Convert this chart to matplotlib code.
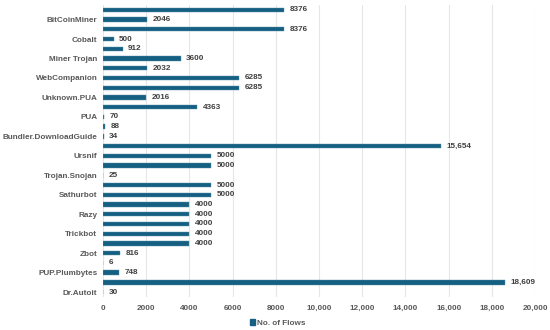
import matplotlib
matplotlib.use("Agg")
import matplotlib.pyplot as plt
from matplotlib.patches import Patch
from matplotlib.ticker import FuncFormatter

categories = ["", "BitCoinMiner", "", "Cobalt", "", "Miner Trojan", "", "WebCompanion",
              "", "Unknown.PUA", "", "PUA", "", "Bundler.DownloadGuide", "", "Ursnif",
              "", "Trojan.Snojan", "", "Sathurbot", "", "Razy", "", "Trickbot", "",
              "Zbot", "", "PUP.Plumbytes", "", "Dr.Autoit"]
flows = [8376, 2046, 8376, 500, 912, 3600, 2032, 6285, 6285, 2016, 4363, 70, 88, 34,
         15654, 5000, 5000, 25, 5000, 5000, 4000, 4000, 4000, 4000, 4000, 816, 6, 748,
         18609, 30]
x_ticks = list(range(0, 20001, 2000))
series_name = "No. of Flows"

color = "#156082"
txt = "#595959"
plt.rcParams['font.family'] = ['Liberation Sans', 'DejaVu Sans']
fs = 5.9

def fmt(v):
    return f"{int(v):,}" if v >= 10000 else str(int(v))

fig = plt.figure(figsize=(5.5, 3.3), dpi=100)
ax = fig.add_axes([0.187, 0.10, 0.786, 0.885])
pos = list(range(len(flows)))
ax.barh(pos, flows, height=0.45, color=color, edgecolor="#5b8fa8", linewidth=0.3, zorder=3)
for p, v in zip(pos, flows):
    ax.annotate(fmt(v), (v, p), xytext=(4, 0), textcoords="offset points",
                va="center", ha="left", fontsize=fs, fontweight="bold", color="#404040")
ax.set_ylim(len(flows) - 0.5, -0.5)
ax.set_xlim(0, 20000)
ax.set_yticks(pos)
ax.set_yticklabels(categories)
ax.set_xticks(x_ticks)
ax.xaxis.set_major_formatter(FuncFormatter(lambda v, _: fmt(v)))
ax.tick_params(axis="both", length=0, labelsize=fs, labelcolor=txt)
ax.tick_params(axis="x", pad=6)
ax.tick_params(axis="y", pad=4)
for lab in ax.get_xticklabels() + ax.get_yticklabels():
    lab.set_fontweight("bold")
ax.grid(axis="x", color="#e6e6e6", linewidth=0.8, zorder=0)
for s in ax.spines.values():
    s.set_visible(False)

fig.legend(handles=[Patch(color=color, label=series_name)], loc="center",
           bbox_to_anchor=(0.505, 0.021), frameon=False,
           handlelength=0.6, handleheight=0.6, handletextpad=0.3,
           prop={'weight': 'bold', 'size': fs}, labelcolor=txt)

fig.savefig("out.png", dpi=100)
